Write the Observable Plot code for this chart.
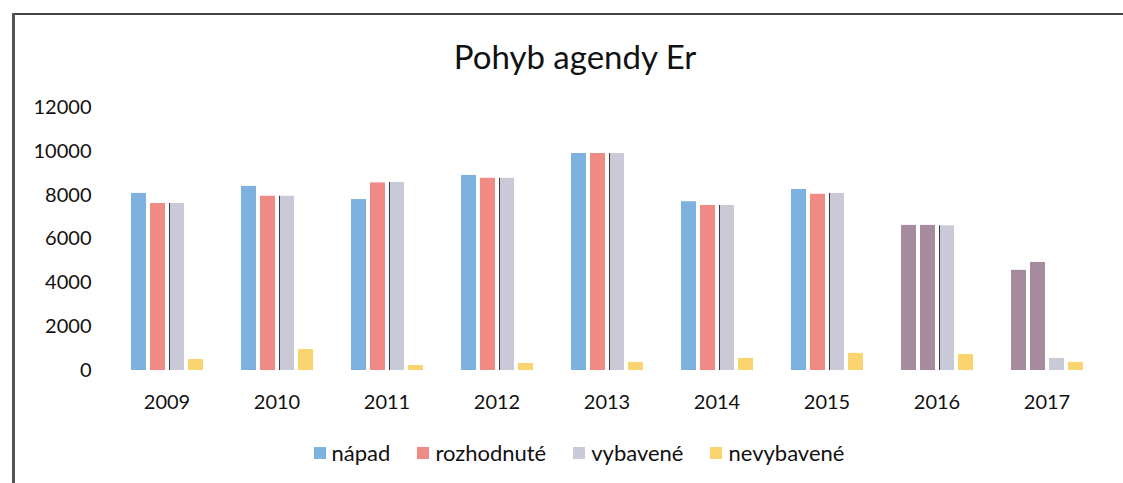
<!DOCTYPE html>
<html>
<head>
<meta charset="utf-8">
<script src="https://cdn.jsdelivr.net/npm/d3@7"></script>
<script src="https://cdn.jsdelivr.net/npm/@observablehq/plot@0.6"></script>
<style>
  html, body { margin: 0; padding: 0; background: #fff; }
  #wrap { position: relative; width: 1123px; height: 483px; overflow: hidden; font-family: Lato, "Open Sans", sans-serif; background: #fff; }
  #frameTop { position: absolute; left: 12px; top: 13px; width: 1111px; height: 2px; background: #444; }
  #frameLeft { position: absolute; left: 12px; top: 13px; width: 3px; height: 470px; background: #555; }
  #title { position: absolute; left: 0; width: 1150px; top: 36px; text-align: center; font-size: 33px; color: #111; line-height: 40px; }
  #chart { position: absolute; left: 0; top: 80px; }
  #legend { position: absolute; left: 0; width: 1158px; top: 439px; display: flex; justify-content: center; gap: 27px; font-size: 22px; color: #111; line-height: 28px; }
  .item { display: flex; align-items: center; gap: 6px; }
  .sw { width: 12px; height: 12px; display: inline-block; }
</style>
</head>
<body>
<div id="wrap">
  <div id="frameTop"></div>
  <div id="frameLeft"></div>
  <div id="title">Pohyb agendy Er</div>
  <div id="chart"></div>
  <div id="legend"></div>
</div>
<script>
const years = ["2009","2010","2011","2012","2013","2014","2015","2016","2017"];
const seriesNames = ["nápad","rozhodnuté","vybavené","nevybavené"];
const napad      = [8080, 8400, 7800, 8900, 9900, 7700, 8260, 6620, 4570];
const rozhodnute = [7620, 7950, 8560, 8770, 9900, 7530, 8040, 6620, 4930];
const vybavene   = [7620, 7950, 8580, 8770, 9900, 7530, 8080, 6600, 550];
const nevybavene = [500, 960, 230, 320, 370, 550, 780, 730, 370];
const yTicks = [0, 2000, 4000, 6000, 8000, 10000, 12000];

const colors = ["#7db1df", "#f08a85", "#c9c9d8", "#fad46e"];
const scanTint = "#a68a9e";

const valuesBySeries = [napad, rozhodnute, vybavene, nevybavene];
const rows = [];
years.forEach((yr, i) => {
  seriesNames.forEach((s, j) => {
    rows.push({year: yr, series: s, value: valuesBySeries[j][i], yi: i, sj: j});
  });
});
const edgeRows = rows.filter(d => d.sj === 2 && d.yi <= 7);

const chart = Plot.plot({
  width: 1123,
  height: 345,
  marginTop: 27,
  marginBottom: 55,
  marginLeft: 126,
  marginRight: 36,
  style: {fontFamily: "Lato, 'Open Sans', sans-serif", fontSize: "20px", color: "#111", background: "transparent"},
  fx: {domain: years, paddingInner: 0.32, paddingOuter: 0, label: null},
  x: {domain: seriesNames, paddingInner: 0.22, paddingOuter: 0, axis: null},
  y: {domain: [0, 12000], label: null},
  marks: [
    Plot.axisY({ticks: yTicks, tickFormat: d3.format("d"), tickSize: 0, tickPadding: 38, fontSize: 20}),
    Plot.axisFx({anchor: "bottom", tickSize: 0, tickPadding: 24, fontSize: 20, label: null}),
    Plot.barY(rows, {
      fx: "year",
      x: "series",
      y: "value",
      fill: d => (d.yi >= 7 && d.sj <= 1) ? scanTint : colors[d.sj]
    }),
    Plot.barY(edgeRows, {
      fx: "year",
      x: "series",
      y: "value",
      fill: "#3a3a3a",
      insetRight: 14
    })
  ]
});
document.getElementById("chart").appendChild(chart);

const legend = document.getElementById("legend");
seriesNames.forEach((s, j) => {
  const item = document.createElement("div");
  item.className = "item";
  const sw = document.createElement("span");
  sw.className = "sw";
  sw.style.background = colors[j];
  const t = document.createElement("span");
  t.textContent = s;
  item.appendChild(sw);
  item.appendChild(t);
  legend.appendChild(item);
});
</script>
</body>
</html>
